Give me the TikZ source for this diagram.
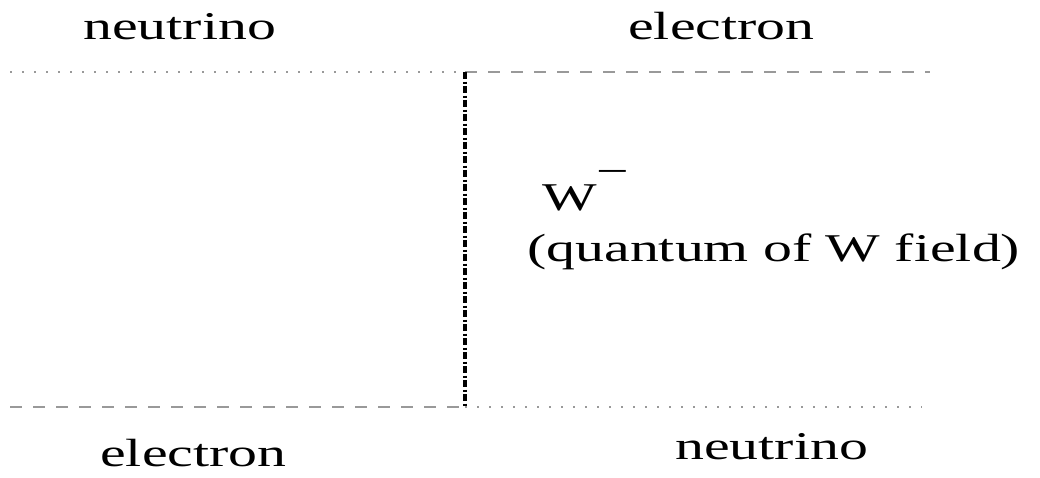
\documentclass[tikz,border=0pt]{standalone}
\usepackage{fontspec}
\setmainfont{Liberation Serif}[FakeStretch=1.47]
\usepackage{xcolor}
\usetikzlibrary{positioning}

\tikzset{
  lbl/.style={anchor=base west,inner sep=0pt,font=\fontsize{29.5pt}{35pt}\selectfont},
  dotline/.style={draw=gray!80,line width=1.1pt,dash pattern=on 1.5pt off 7.5pt},
  dashline/.style={draw=gray!80,line width=1.1pt,dash pattern=on 9pt off 8.25pt},
  wline/.style={draw=black,line width=3.6pt,dash pattern=on 5.5pt off 1.7pt on 1.6pt off 1.7pt}
}

\begin{document}
\begin{tikzpicture}[x=0.75pt,y=-0.75pt]
  \useasboundingbox (0,0) rectangle (1040,478);
  % vertex points
  \coordinate (tl) at (10,72);
  \coordinate (tm) at (465,72);
  \coordinate (tr) at (930,72);
  \coordinate (bl) at (10,407);
  \coordinate (bm) at (465,407);
  \coordinate (br) at (922,407);
  % fermion lines
  \draw[dotline] (tl) -- (tm);
  \draw[dashline] (tm) -- (tr);
  \draw[dashline] (bl) -- (bm);
  \draw[dotline] (bm) -- (br);
  % W exchange
  \draw[wline] (tm) -- (bm);
  % labels
  \node[lbl] (nutop) at (83,40) {neutrino};
  \node[lbl] (etop) at (628,40) {electron};
  \node[lbl] (wname) at (542,210) {W\raisebox{19pt}{−}};
  \node[lbl] (wnote) at (527,261) {(quantum of W field)};
  \node[lbl] (ebot) at (100,466) {electron};
  \node[lbl] (nubot) at (675,459) {neutrino};
\end{tikzpicture}
\end{document}
